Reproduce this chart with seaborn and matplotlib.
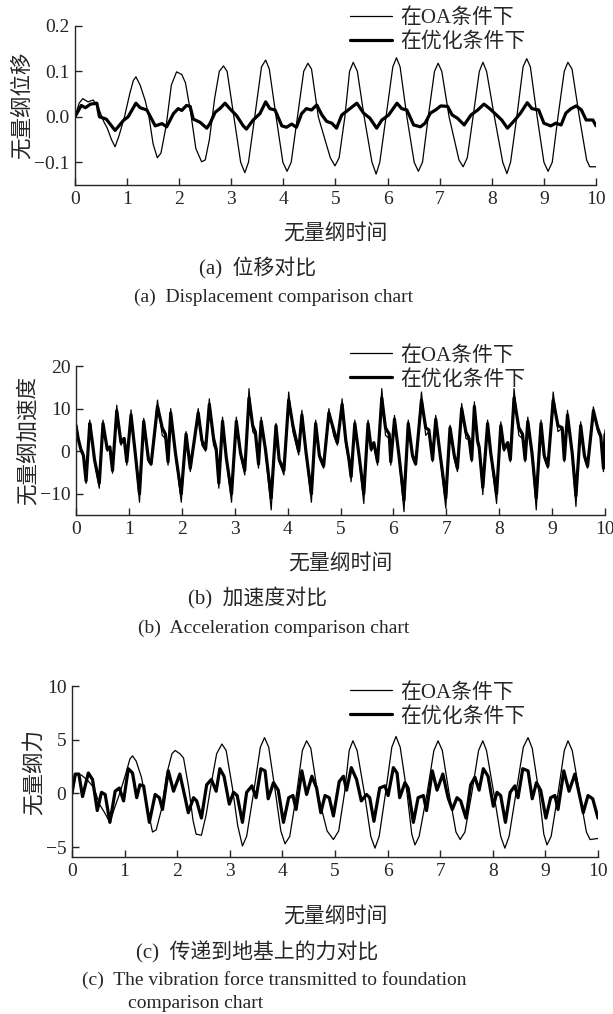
import matplotlib
matplotlib.use('Agg')
import matplotlib.pyplot as plt
import seaborn as sns

# ---- dados ----
# (a) deslocamento adimensional
disp_oa_t = [0.0, 0.08, 0.15, 0.25, 0.35, 0.45, 0.55, 0.62, 0.70, 0.77, 0.85, 0.95,
             1.05, 1.12, 1.17, 1.25, 1.35, 1.42, 1.50, 1.58, 1.65, 1.75, 1.85, 1.95,
             2.05, 2.12, 2.22, 2.32, 2.43, 2.50, 2.58, 2.68, 2.77, 2.85, 2.92, 3.05,
             3.18, 3.26, 3.33, 3.45, 3.58, 3.66, 3.73, 3.86, 3.99, 4.07, 4.15, 4.27,
             4.39, 4.47, 4.54, 4.67, 4.90, 4.99, 5.07, 5.18, 5.27, 5.34, 5.42, 5.55,
             5.70, 5.78, 5.85, 5.97, 6.10, 6.17, 6.24, 6.37, 6.51, 6.59, 6.67, 6.78,
             6.90, 6.97, 7.04, 7.18, 7.37, 7.45, 7.53, 7.64, 7.76, 7.83, 7.90, 8.05,
             8.21, 8.29, 8.36, 8.48, 8.60, 8.67, 8.74, 8.87, 9.00, 9.08, 9.16, 9.27,
             9.39, 9.46, 9.54, 9.68, 9.82, 9.88, 10.0]
disp_oa = [0.0, 0.03, 0.04, 0.033, 0.037, 0.02, -0.01, -0.025, -0.05, -0.066, -0.04, 0.0,
           0.05, 0.08, 0.088, 0.07, 0.035, 0.0, -0.06, -0.09, -0.08, -0.02, 0.07, 0.099,
           0.093, 0.075, 0.01, -0.07, -0.099, -0.095, -0.05, 0.04, 0.10, 0.112, 0.10, 0.0,
           -0.10, -0.123, -0.10, 0.0, 0.11, 0.125, 0.105, 0.0, -0.10, -0.12, -0.10, 0.0,
           0.10, 0.118, 0.105, 0.0, -0.09, -0.108, -0.09, 0.0, 0.10, 0.12, 0.10, 0.0,
           -0.10, -0.126, -0.10, 0.0, 0.11, 0.13, 0.11, 0.0, -0.10, -0.12, -0.10, 0.0,
           0.10, 0.118, 0.10, 0.0, -0.095, -0.11, -0.09, 0.0, 0.10, 0.12, 0.10, 0.0,
           -0.10, -0.125, -0.10, 0.0, 0.11, 0.128, 0.11, 0.0, -0.10, -0.12, -0.10, 0.0,
           0.10, 0.12, 0.105, 0.0, -0.095, -0.11, -0.11]

disp_opt_t = [0.0, 0.12, 0.20, 0.30, 0.42, 0.47, 0.60, 0.77, 0.93, 1.02, 1.17, 1.25,
              1.38, 1.54, 1.67, 1.76, 1.89, 1.98, 2.05, 2.14, 2.21, 2.27, 2.40, 2.53,
              2.59, 2.69, 2.78, 2.88, 2.97, 3.10, 3.23, 3.29, 3.42, 3.55, 3.66, 3.74,
              3.84, 3.97, 4.06, 4.16, 4.25, 4.35, 4.44, 4.54, 4.64, 4.74, 4.83, 4.93,
              5.02, 5.12, 5.21, 5.41, 5.54, 5.66, 5.79, 5.89, 6.02, 6.18, 6.27, 6.37,
              6.50, 6.63, 6.72, 6.82, 6.92, 7.02, 7.15, 7.24, 7.34, 7.47, 7.60, 7.73,
              7.85, 7.96, 8.09, 8.19, 8.30, 8.42, 8.55, 8.68, 8.77, 8.90, 9.00, 9.13,
              9.23, 9.33, 9.42, 9.52, 9.62, 9.72, 9.81, 9.94, 10.0]
disp_opt = [0.0, 0.025, 0.02, 0.028, 0.03, 0.0, -0.005, -0.03, -0.008, 0.0, 0.03, 0.02,
            0.015, -0.02, -0.015, -0.022, 0.007, 0.018, 0.014, 0.025, 0.023, -0.005, -0.012, -0.025,
            -0.015, 0.01, 0.018, 0.03, 0.018, 0.003, -0.02, -0.027, -0.007, 0.007, 0.033, 0.018,
            0.015, -0.02, -0.023, -0.016, -0.023, 0.007, 0.018, 0.015, 0.026, 0.004, -0.01, -0.014,
            -0.025, 0.004, 0.012, 0.03, 0.008, -0.003, -0.025, -0.007, 0.004, 0.03, 0.018, 0.015,
            -0.018, -0.022, -0.014, 0.008, 0.015, 0.024, 0.023, 0.004, -0.003, -0.018, 0.004, 0.015,
            0.028, 0.018, 0.004, -0.007, -0.025, -0.01, 0.008, 0.031, 0.018, 0.015, -0.014, -0.02,
            -0.014, -0.018, 0.008, 0.018, 0.024, 0.015, -0.007, -0.007, -0.02]

# (b) aceleração adimensional (mesmos instantes para as duas curvas)
acc_t = [0.0, 0.04, 0.09, 0.14, 0.19, 0.26, 0.30, 0.35, 0.44, 0.51, 0.59, 0.64,
         0.69, 0.77, 0.85, 0.91, 0.96, 1.04, 1.12, 1.20, 1.28, 1.37, 1.42, 1.54,
         1.63, 1.69, 1.74, 1.79, 1.88, 1.99, 2.08, 2.16, 2.31, 2.38, 2.45, 2.52,
         2.60, 2.65, 2.70, 2.77, 2.84, 2.94, 3.03, 3.11, 3.19, 3.27, 3.34, 3.39,
         3.45, 3.50, 3.58, 3.69, 3.78, 3.84, 3.93, 4.02, 4.10, 4.21, 4.27, 4.35,
         4.45, 4.53, 4.60, 4.68, 4.78, 4.87, 4.94, 5.03, 5.10, 5.16, 5.20, 5.27,
         5.35, 5.44, 5.52, 5.58, 5.63, 5.70, 5.78, 5.85, 5.92, 5.95, 6.02, 6.10,
         6.20, 6.28, 6.36, 6.42, 6.53, 6.61, 6.67, 6.74, 6.80, 6.88, 6.99, 7.07,
         7.15, 7.21, 7.29, 7.37, 7.43, 7.48, 7.53, 7.59, 7.62, 7.69, 7.78, 7.84,
         7.95, 8.03, 8.09, 8.16, 8.21, 8.28, 8.37, 8.44, 8.49, 8.54, 8.62, 8.70,
         8.79, 8.85, 8.92, 9.02, 9.11, 9.19, 9.23, 9.29, 9.38, 9.45, 9.54, 9.61,
         9.67, 9.78, 9.86, 9.92, 9.97, 10.0]
acc_oa = [7.0, 3.6, 0.0, -1.0, -7.6, 7.3, 3.0, -2.5, -8.7, 7.3, 0.0, 0.7,
          -5.2, 10.8, 1.4, 3.0, -3.3, 9.7, -0.9, -12.0, 7.7, -2.5, -3.3, 12.0,
          3.7, 3.0, -3.3, 10.0, -0.9, -12.0, 4.6, -4.8, 10.0, 1.4, 0.0, 12.3,
          1.4, 0.0, -8.7, 8.0, -1.7, -12.0, 8.0, -0.9, -5.6, 14.7, 4.6, 3.7,
          -4.0, 8.0, 0.0, -13.8, 6.5, -2.5, -5.6, 13.9, 4.6, -0.9, 9.6, -0.9,
          -12.0, 7.3, -1.7, -4.0, 10.0, 3.7, 1.4, 12.3, 1.4, -2.5, -7.2, 7.3,
          -1.7, -12.3, 7.3, 0.0, 1.4, -3.3, 14.7, 3.7, 3.0, -3.3, 8.4, -0.9,
          -14.2, 7.3, -1.7, -3.3, 13.9, 3.7, 4.6, -2.5, 8.4, -0.9, -13.4, 6.1,
          -1.7, -4.8, 11.2, 3.0, 2.6, -2.5, 11.6, 1.4, 0.7, -10.2, 7.3, -0.9,
          -12.3, 6.9, 0.0, 1.4, -2.5, 14.7, 3.7, 3.0, -2.5, 8.0, -0.9, -13.8,
          7.3, -1.7, -4.0, 13.9, 4.6, 5.4, -2.5, 9.6, -0.9, -13.0, 6.9, -1.7,
          -4.0, 10.4, 4.6, 3.0, -4.8, 5.0]
acc_opt = [6.0, 3.0, 0.5, -1.0, -7.0, 6.5, 3.0, -2.0, -7.5, 6.5, 0.5, 1.0,
           -4.5, 9.5, 2.0, 3.0, -2.5, 8.5, -0.5, -10.0, 7.0, -2.0, -3.0, 10.5,
           5.5, 4.0, -2.5, 9.0, -0.5, -10.0, 4.0, -4.0, 9.0, 2.5, 0.5, 11.0,
           3.0, 0.5, -7.5, 7.0, -1.5, -10.0, 7.0, -0.5, -4.5, 12.5, 6.0, 4.5,
           -3.0, 7.0, 0.5, -11.0, 6.0, -2.0, -4.5, 12.0, 6.0, 0.0, 8.5, -0.5,
           -10.0, 6.5, -1.0, -3.5, 9.0, 5.0, 2.0, 11.0, 2.5, -2.0, -6.0, 6.5,
           -1.0, -10.0, 6.5, 0.5, 2.0, -2.5, 12.5, 5.5, 4.0, -2.5, 7.5, -0.5,
           -11.5, 6.5, -1.0, -3.0, 12.0, 5.5, 5.0, -2.0, 7.5, -0.5, -11.0, 5.5,
           -1.0, -4.0, 10.0, 4.5, 3.0, -2.0, 10.5, 2.5, 1.0, -8.5, 6.5, -0.5,
           -10.0, 6.0, 0.5, 2.0, -2.0, 12.5, 5.5, 4.0, -2.0, 7.0, -0.5, -11.0,
           6.5, -1.0, -3.5, 12.0, 6.0, 5.5, -2.0, 8.5, -0.5, -10.5, 6.0, -1.0,
           -3.5, 9.5, 5.5, 3.5, -4.0, 4.0]

# (c) força transmitida à fundação
force_oa_t = [0.0, 0.08, 0.18, 0.30, 0.42, 0.52, 0.62, 0.72, 0.82, 0.92, 1.02, 1.10,
              1.15, 1.22, 1.32, 1.42, 1.53, 1.60, 1.70, 1.80, 1.90, 1.96, 2.05, 2.12,
              2.22, 2.30, 2.36, 2.46, 2.55, 2.65, 2.75, 2.85, 2.93, 3.05, 3.15, 3.24,
              3.32, 3.45, 3.58, 3.66, 3.74, 3.87, 3.97, 4.05, 4.14, 4.27, 4.38, 4.46,
              4.54, 4.67, 4.85, 4.97, 5.07, 5.18, 5.27, 5.34, 5.42, 5.56, 5.68, 5.76,
              5.84, 5.96, 6.08, 6.16, 6.24, 6.37, 6.46, 6.52, 6.60, 6.75, 6.88, 6.96,
              7.04, 7.17, 7.30, 7.38, 7.47, 7.60, 7.73, 7.81, 7.88, 8.02, 8.15, 8.23,
              8.31, 8.44, 8.58, 8.67, 8.75, 8.88, 8.97, 9.03, 9.11, 9.24, 9.36, 9.43,
              9.51, 9.65, 9.78, 9.85, 10.0]
force_oa = [0.0, 1.8, 1.7, 1.2, 0.5, -1.0, -1.8, -2.7, -1.2, 0.2, 1.8, 3.2,
            3.5, 3.0, 1.5, -1.0, -3.6, -3.4, -1.5, 1.8, 3.7, 4.0, 3.7, 3.3,
            0.5, -2.5, -3.8, -3.9, -2.0, 1.0, 3.7, 4.6, 4.0, 0.5, -3.0, -4.9,
            -4.0, 0.0, 4.3, 5.2, 4.3, 0.0, -3.5, -4.7, -4.0, 0.0, 4.0, 4.9,
            4.2, 0.0, -3.5, -4.3, -3.5, 0.0, 4.0, 4.9, 4.0, 0.0, -4.0, -5.1,
            -4.0, 0.0, 4.3, 5.3, 4.3, 0.0, -3.8, -4.8, -4.0, 0.0, 4.0, 4.9,
            4.0, 0.0, -3.6, -4.3, -3.6, 0.0, 4.0, 4.9, 4.0, 0.0, -4.0, -5.1,
            -4.0, 0.0, 4.3, 5.2, 4.2, 0.0, -3.8, -4.8, -4.0, 0.0, 4.0, 4.9,
            4.0, 0.0, -3.6, -4.3, -4.2]

force_opt_t = [0.0, 0.06, 0.13, 0.20, 0.31, 0.39, 0.48, 0.56, 0.63, 0.72, 0.82, 0.90,
               0.98, 1.07, 1.15, 1.23, 1.29, 1.36, 1.47, 1.58, 1.66, 1.72, 1.83, 1.93,
               2.05, 2.15, 2.21, 2.31, 2.37, 2.46, 2.56, 2.65, 2.74, 2.81, 2.89, 2.99,
               3.07, 3.14, 3.24, 3.32, 3.42, 3.50, 3.59, 3.67, 3.73, 3.83, 3.92, 4.02,
               4.12, 4.20, 4.26, 4.37, 4.46, 4.56, 4.65, 4.73, 4.81, 4.89, 4.97, 5.08,
               5.16, 5.22, 5.31, 5.41, 5.50, 5.60, 5.66, 5.74, 5.85, 5.95, 6.01, 6.11,
               6.18, 6.23, 6.33, 6.39, 6.49, 6.58, 6.68, 6.74, 6.85, 6.94, 7.05, 7.15,
               7.23, 7.32, 7.39, 7.49, 7.58, 7.66, 7.74, 7.82, 7.91, 8.01, 8.08, 8.15,
               8.24, 8.33, 8.42, 8.48, 8.57, 8.67, 8.75, 8.83, 8.91, 9.01, 9.10, 9.18,
               9.24, 9.35, 9.45, 9.56, 9.65, 9.72, 9.81, 9.90, 10.0]
force_opt = [0.0, 1.8, 1.8, -0.3, 1.9, 1.3, -1.6, 0.1, -0.1, -2.7, 0.2, 0.5,
             -0.7, 2.3, 1.9, -0.4, 0.8, 0.7, -2.7, -0.1, -0.4, -1.5, 2.1, 0.2,
             1.8, -0.4, -1.8, -0.4, -0.7, -2.3, 0.8, 1.3, 0.2, 2.3, 1.6, -1.0,
             0.1, -0.2, -2.7, 0.1, 0.7, -0.4, 2.3, 2.1, -0.5, 1.0, 0.3, -2.7,
             -0.4, -0.2, -1.5, 2.1, -0.1, 1.6, 0.5, -1.8, -0.2, -0.4, -2.1, 1.1,
             1.6, 0.3, 2.4, 1.3, -0.7, -0.1, -0.4, -2.6, 0.5, 0.7, -0.2, 2.4,
             1.9, -0.4, 1.0, 0.5, -2.7, -0.4, -0.2, -1.6, 2.1, 0.3, 1.8, -0.4,
             -1.5, -0.4, -0.7, -2.3, 0.8, 1.5, 0.3, 2.3, 1.6, -1.2, 0.1, -0.2,
             -2.7, 0.1, 0.7, -0.4, 2.3, 2.1, -0.5, 1.0, 0.3, -2.3, -0.4, -0.2,
             -1.5, 2.1, 0.2, 1.8, -0.2, -1.8, -0.2, -0.5, -2.3]

rotulo_oa = '在OA条件下'
rotulo_opt = '在优化条件下'
rotulo_tempo = '无量纲时间'
x_ticks = list(range(0, 11))

sns.set_style('ticks')
plt.rcParams['font.family'] = ['Liberation Serif', 'Noto Sans CJK SC']
plt.rcParams['axes.unicode_minus'] = True

fig = plt.figure(figsize=(6.13, 10.14), dpi=100)

paineis = [
    dict(pos=[0.1223, 0.8176, 0.850, 0.1568], oa=(disp_oa_t, disp_oa), opt=(disp_opt_t, disp_opt),
         ylim=(-0.15, 0.2), yticks=[-0.1, 0.0, 0.1, 0.2], fmt='{:.1f}',
         ylabel='无量纲位移', leg=(0.528, 1.11), xpad=12,
         cap=['(a)  位移对比', '(a)  Displacement comparison chart'], cap_y=[268, 297]),
    dict(pos=[0.1240, 0.4921, 0.863, 0.1469], oa=(acc_t, acc_oa), opt=(acc_t, acc_opt),
         ylim=(-15, 20), yticks=[-10, 0, 10, 20], fmt='{:d}',
         ylabel='无量纲加速度', leg=(0.518, 1.135), xpad=12,
         cap=['(b)  加速度对比', '(b)  Acceleration comparison chart'], cap_y=[598, 628]),
    dict(pos=[0.1175, 0.1548, 0.858, 0.1686], oa=(force_oa_t, force_oa), opt=(force_opt_t, force_opt),
         ylim=(-5.93, 10), yticks=[-5, 0, 5, 10], fmt='{:d}',
         ylabel='无量纲力', leg=(0.529, 1.018), xpad=20,
         cap=['(c)  传递到地基上的力对比', '(c)  The vibration force transmitted to foundation'],
         cap_y=[952, 980]),
]

for p in paineis:
    ax = fig.add_axes(p['pos'])
    sns.lineplot(x=p['oa'][0], y=p['oa'][1], ax=ax, color='black', linewidth=0.9, label=rotulo_oa)
    sns.lineplot(x=p['opt'][0], y=p['opt'][1], ax=ax, color='black', linewidth=2.3, label=rotulo_opt)
    ax.set_xlim(0, 10)
    ax.set_ylim(*p['ylim'])
    ax.set_xticks(x_ticks)
    ax.set_xticklabels([str(v) for v in x_ticks])
    ax.set_yticks(p['yticks'])
    ax.set_yticklabels([p['fmt'].format(v).replace('-', '\u2212') for v in p['yticks']])
    ax.tick_params(direction='in', length=5, width=1, labelsize=14, pad=4)
    for lado in ['top', 'right']:
        ax.spines[lado].set_visible(False)
    for lado in ['left', 'bottom']:
        ax.spines[lado].set_linewidth(1.0)
    ax.set_xlabel(rotulo_tempo, fontsize=15, labelpad=p['xpad'])
    ax.set_ylabel(p['ylabel'], fontsize=15.5, labelpad=1)
    ax.legend(loc='upper left', bbox_to_anchor=p['leg'], frameon=False,
              fontsize=15, handlelength=2.0, handletextpad=0.4, labelspacing=0.2,
              borderaxespad=0, borderpad=0)
    fig.text(0.42, 1 - p['cap_y'][0] / 1014, p['cap'][0], ha='center', va='center', fontsize=15)
    fig.text(0.447, 1 - p['cap_y'][1] / 1014, p['cap'][1], ha='center', va='center', fontsize=14)

fig.text(0.208, 1 - 1004 / 1014, 'comparison chart', ha='left', va='center', fontsize=14)

fig.savefig('out.png', dpi=100)
